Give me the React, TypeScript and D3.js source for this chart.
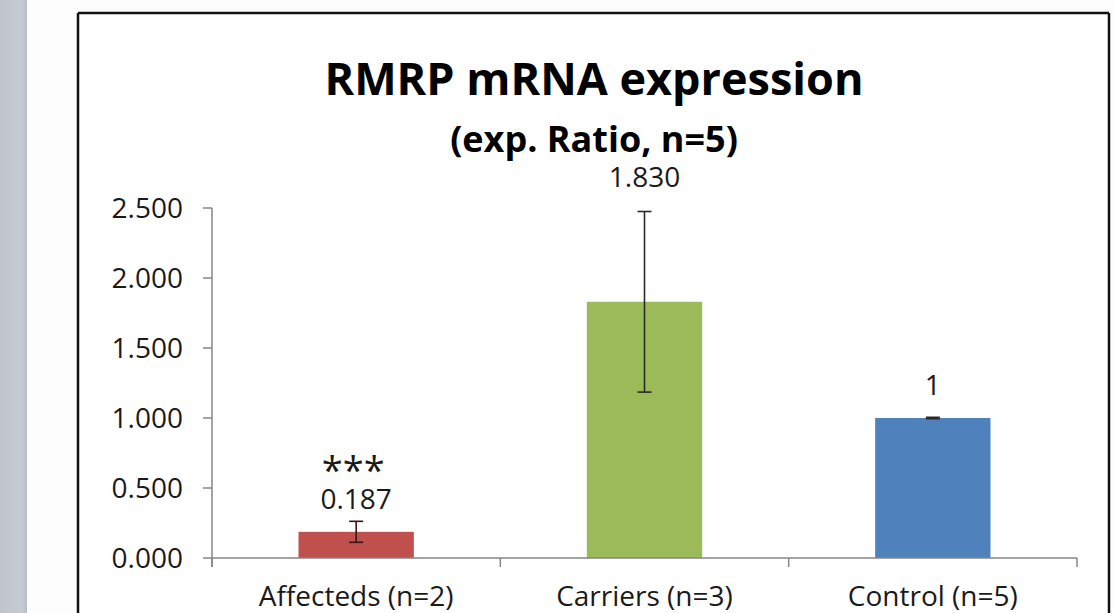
import * as d3 from "d3";

const categories = ["Affecteds (n=2)", "Carriers (n=3)", "Control (n=5)"];
const values = [0.187, 1.83, 1.0];
const errors = [0.075, 0.645, 0.005];
const valueLabels = ["0.187", "1.830", "1"];
const marks = ["***", "", ""];
const colors = ["#c0504d", "#9bbb59", "#4f81bd"];
const yTicks = [0, 0.5, 1.0, 1.5, 2.0, 2.5];

const W = 1114;
const H = 613;
const FONT = "'Open Sans', 'Noto Sans', sans-serif";

export default function App() {
  const x = d3
    .scaleBand<string>()
    .domain(categories)
    .range([212, 1077])
    .paddingInner(0.6)
    .paddingOuter(0.3);
  const y = d3.scaleLinear().domain([0, 2.5]).range([558, 208]);
  const fmt = d3.format(".3f");
  const axisColor = "#868686";

  // category boundaries for the little x ticks
  const step = x.step();
  const bounds = d3.range(categories.length + 1).map((i) => 212 + i * step);

  return (
    <svg
      width={W}
      height={H}
      style={{ position: "absolute", left: 0, top: 0, background: "#fdfdfd", display: "block" }}
      fontFamily={FONT}
    >
      {/* slide edge on the left */}
      <defs>
        <linearGradient id="band" x1="0" x2="1" y1="0" y2="0">
          <stop offset="0" stopColor="#bfc4cd" />
          <stop offset="0.8" stopColor="#c6cbd3" />
          <stop offset="1" stopColor="#b6bcc6" />
        </linearGradient>
      </defs>
      <rect x={0} y={0} width={27} height={H} fill="url(#band)" />

      {/* chart frame */}
      <rect x={78} y={13} width={1031} height={H + 20} fill="#fff" />
      <g stroke="#111" strokeWidth={2.5}>
        <line x1={78} x2={1109} y1={13} y2={13} />
        <line x1={78} x2={78} y1={13} y2={H} />
        <line x1={1109} x2={1109} y1={13} y2={H} />
      </g>

      {/* titles */}
      <text x={594} y={95} textAnchor="middle" fontSize={45} fontWeight="bold" fill="#000">
        RMRP mRNA expression
      </text>
      <text x={594} y={152} textAnchor="middle" fontSize={36} fontWeight="bold" fill="#000">
        (exp. Ratio, n=5)
      </text>

      {/* y axis */}
      <line x1={212} x2={212} y1={y(2.5)} y2={y(0) + 9} stroke={axisColor} strokeWidth={1.5} />
      {yTicks.map((t) => (
        <g key={t}>
          <line x1={203} x2={212} y1={y(t)} y2={y(t)} stroke={axisColor} strokeWidth={1.5} />
          <text x={183} y={y(t) + 10} textAnchor="end" fontSize={28} fill="#1a1a1a">
            {fmt(t)}
          </text>
        </g>
      ))}

      {/* bars */}
      {categories.map((c, i) => (
        <rect
          key={c}
          x={x(c)}
          y={y(values[i])}
          width={x.bandwidth()}
          height={y(0) - y(values[i])}
          fill={colors[i]}
        />
      ))}

      {/* x axis */}
      <line x1={212} x2={1077} y1={y(0)} y2={y(0)} stroke={axisColor} strokeWidth={1.5} />
      {bounds.map((b, i) => (
        <line key={i} x1={b} x2={b} y1={y(0)} y2={y(0) + 9} stroke={axisColor} strokeWidth={1.5} />
      ))}

      {/* error bars */}
      {categories.map((c, i) => {
        const cx = (x(c) ?? 0) + x.bandwidth() / 2;
        const top = y(values[i] + errors[i]);
        const bot = y(values[i] - errors[i]);
        const s = i === 0 ? "#3a1414" : "#2a2a2a";
        return (
          <g key={c} stroke={s} strokeWidth={1.6}>
            <line x1={cx} x2={cx} y1={top} y2={bot} />
            <line x1={cx - 7} x2={cx + 7} y1={top} y2={top} />
            <line x1={cx - 7} x2={cx + 7} y1={bot} y2={bot} />
          </g>
        );
      })}

      {/* value labels */}
      {categories.map((c, i) => {
        const cx = (x(c) ?? 0) + x.bandwidth() / 2;
        const ly = errors[i] > 0.2 ? y(values[i] + errors[i]) - 25 : y(values[i]) - 23;
        return (
          <g key={c}>
            <text x={cx} y={ly} textAnchor="middle" fontSize={28} fill="#1a1a1a">
              {valueLabels[i]}
            </text>
            {marks[i] && (
              <text x={cx - 3} y={ly - 25} textAnchor="middle" fontSize={38} fill="#1a1a1a">
                {marks[i]}
              </text>
            )}
          </g>
        );
      })}

      {/* category labels */}
      {categories.map((c) => (
        <text
          key={c}
          x={(x(c) ?? 0) + x.bandwidth() / 2}
          y={606}
          textAnchor="middle"
          fontSize={28}
          fill="#1a1a1a"
        >
          {c}
        </text>
      ))}
    </svg>
  );
}
